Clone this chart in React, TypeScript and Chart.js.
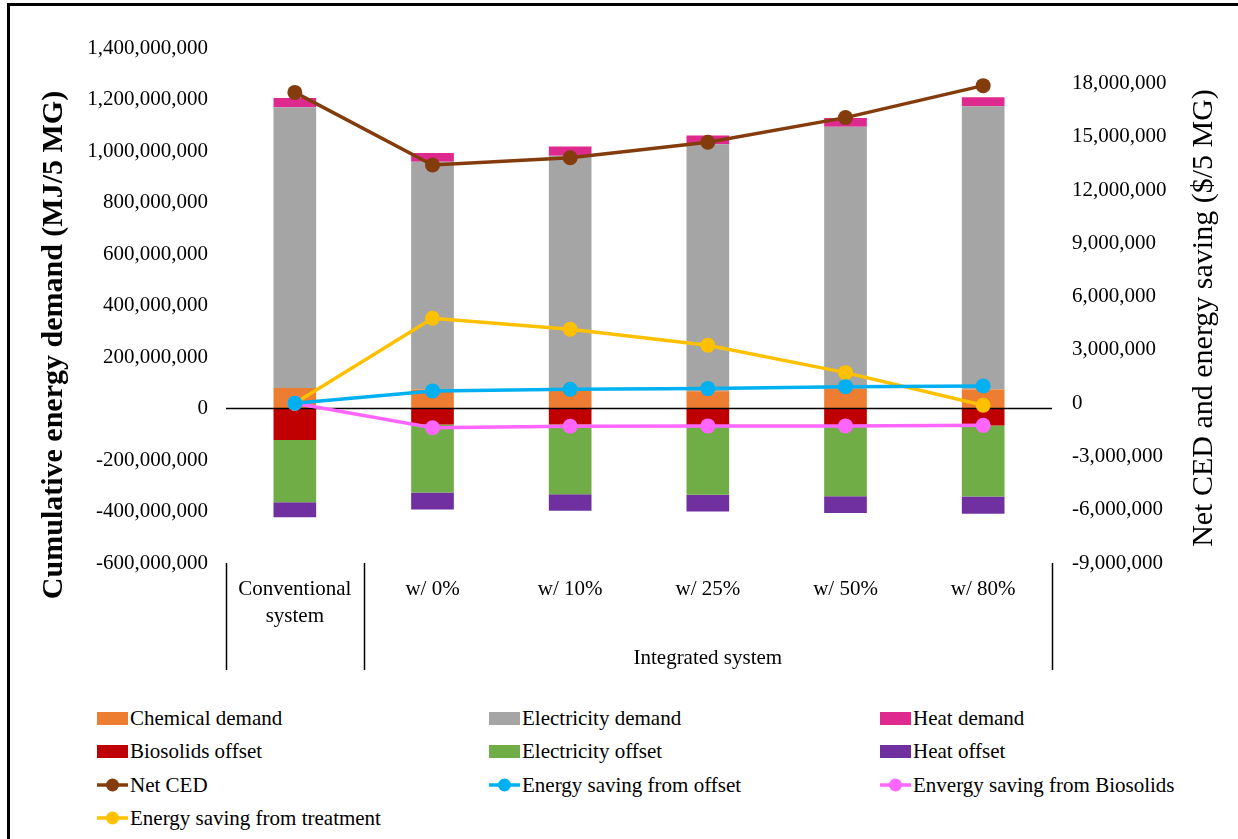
import React, { useEffect, useRef } from 'react';
import { Chart, registerables } from 'chart.js';

Chart.register(...registerables);

// ---------- data ----------
const categories: (string | string[])[] = [['Conventional', 'system'], 'w/ 0%', 'w/ 10%', 'w/ 25%', 'w/ 50%', 'w/ 80%'];
const groupLabels = ['', '', '', 'Integrated system', '', ''];

const leftTicks = [-600e6, -400e6, -200e6, 0, 200e6, 400e6, 600e6, 800e6, 1000e6, 1200e6, 1400e6];
const rightTicks = [-9e6, -6e6, -3e6, 0, 3e6, 6e6, 9e6, 12e6, 15e6, 18e6];

const chemicalDemand = [80e6, 74e6, 76e6, 67e6, 76e6, 74e6];
const electricityDemand = [1090e6, 884e6, 906e6, 959e6, 1018e6, 1100e6];
const heatDemand = [36e6, 34e6, 35e6, 34e6, 34e6, 35e6];
const biosolidsOffset = [-122e6, -62e6, -62e6, -72e6, -72e6, -66e6];
const electricityOffset = [-242e6, -264e6, -271e6, -263e6, -269e6, -276e6];
const heatOffset = [-58e6, -66e6, -64e6, -65e6, -65e6, -67e6];

const netCED = [17.5e6, 13.41e6, 13.82e6, 14.69e6, 16.08e6, 17.88e6];
const savingOffset = [0, 0.69e6, 0.78e6, 0.82e6, 0.93e6, 0.97e6];
const savingBiosolids = [0, -1.38e6, -1.3e6, -1.28e6, -1.28e6, -1.25e6];
const savingTreatment = [0, 4.78e6, 4.16e6, 3.26e6, 1.72e6, -0.12e6];

const barSeries = [
  { label: 'Chemical demand', data: chemicalDemand, color: '#ED7D31' },
  { label: 'Electricity demand', data: electricityDemand, color: '#A5A5A5' },
  { label: 'Heat demand', data: heatDemand, color: '#DE2A8E' },
  { label: 'Biosolids offset', data: biosolidsOffset, color: '#C00000' },
  { label: 'Electricity offset', data: electricityOffset, color: '#70AD47' },
  { label: 'Heat offset', data: heatOffset, color: '#7030A0' },
];
const lineSeries = [
  { label: 'Net CED', data: netCED, color: '#843C0C' },
  { label: 'Energy saving from offset', data: savingOffset, color: '#00B0F0' },
  { label: 'Envergy saving from Biosolids', data: savingBiosolids, color: '#FF66FF' },
  { label: 'Energy saving from treatment', data: savingTreatment, color: '#FFC000' },
];

const FONT = '"Liberation Serif", "Times New Roman", Times, serif';

export default function App() {
  const ref = useRef<HTMLCanvasElement>(null);

  useEffect(() => {
    if (!ref.current) return;
    let zeroDrawn = false;
    const drawZero = (chart: any) => {
      const { ctx, chartArea } = chart;
      const y = chart.scales.y.getPixelForValue(0);
      ctx.save();
      ctx.strokeStyle = '#000';
      ctx.lineWidth = 1.5;
      ctx.beginPath();
      ctx.moveTo(chartArea.left, y);
      ctx.lineTo(chartArea.right, y);
      ctx.stroke();
      ctx.restore();
    };
    const extras = {
      id: 'extras',
      beforeDatasetsDraw() {
        zeroDrawn = false;
      },
      beforeDatasetDraw(chart: any, args: any) {
        if (!zeroDrawn && args.meta.type === 'line') {
          drawZero(chart);
          zeroDrawn = true;
        }
      },
      afterDatasetsDraw(chart: any) {
        if (!zeroDrawn) drawZero(chart);
      },
      afterDraw(chart: any) {
        const { ctx, chartArea } = chart;
        const x = chart.scales.x;
        const n = categories.length;
        const w = (x.right - x.left) / n;
        ctx.save();
        ctx.strokeStyle = '#000';
        ctx.lineWidth = 1.5;
        [0, 1, n].forEach((k) => {
          const px = Math.round(x.left + k * w) + 0.5;
          ctx.beginPath();
          ctx.moveTo(px, chartArea.bottom);
          ctx.lineTo(px, chartArea.bottom + 107);
          ctx.stroke();
        });
        ctx.restore();
      },
    };

    const tickFont = { family: FONT, size: 21, lineHeight: 1.3 };
    const fmt = (v: any) => Number(v).toLocaleString('en-US');

    const datasets: any[] = [
      ...barSeries.map((s) => ({
        type: 'bar',
        label: s.label,
        data: s.data,
        backgroundColor: s.color,
        borderWidth: 0,
        yAxisID: 'y',
        order: 2,
        barPercentage: 0.31,
        categoryPercentage: 1,
      })),
      ...lineSeries.map((s) => ({
        type: 'line',
        label: s.label,
        data: s.data,
        borderColor: s.color,
        backgroundColor: s.color,
        pointBackgroundColor: s.color,
        pointBorderWidth: 0,
        pointRadius: 7.5,
        pointHoverRadius: 7.5,
        borderWidth: 3.5,
        tension: 0,
        yAxisID: 'y2',
        order: 1,
      })),
    ];

    const chart = new Chart(ref.current, {
      type: 'bar',
      data: { labels: categories as any, datasets },
      plugins: [extras],
      options: {
        responsive: false,
        animation: false,
        devicePixelRatio: 1,
        layout: { padding: { left: 87, top: 48, right: 0, bottom: 0 } },
        plugins: { legend: { display: false }, tooltip: { enabled: false } },
        scales: {
          x: {
            type: 'category',
            stacked: true,
            offset: true,
            weight: 0,
            grid: { display: false, drawTicks: false },
            border: { display: false },
            ticks: { padding: 13, autoSkip: false, maxRotation: 0, color: '#000', font: tickFont },
            afterFit: (s: any) => {
              s.height = 80;
            },
          },
          x2: {
            type: 'category',
            labels: groupLabels,
            position: 'bottom',
            offset: true,
            weight: 1,
            grid: { display: false, drawTicks: false },
            border: { display: false },
            ticks: { padding: 2, autoSkip: false, maxRotation: 0, color: '#000', font: tickFont },
            afterFit: (s: any) => {
              s.height = 57;
            },
          },
          y: {
            type: 'linear',
            position: 'left',
            stacked: true,
            min: -600e6,
            max: 1400e6,
            grid: { display: false, drawTicks: false },
            border: { display: false },
            afterBuildTicks: (s: any) => {
              s.ticks = leftTicks.map((v) => ({ value: v }));
            },
            afterFit: (s: any) => {
              s.width = 139;
            },
            ticks: { padding: 18, color: '#000', font: tickFont, callback: fmt },
          },
          y2: {
            type: 'linear',
            position: 'right',
            min: -9e6,
            max: 20e6,
            grid: { display: false, drawTicks: false },
            border: { display: false },
            afterBuildTicks: (s: any) => {
              s.ticks = rightTicks.map((v) => ({ value: v }));
            },
            afterFit: (s: any) => {
              s.width = 186;
            },
            ticks: { padding: 20, color: '#000', font: tickFont, callback: fmt },
          },
        },
      } as any,
    });
    return () => chart.destroy();
  }, []);

  const legendItems = [
    ...barSeries.map((s) => ({ ...s, kind: 'box' })),
    ...lineSeries.map((s) => ({ ...s, kind: 'line' })),
  ];
  const colX = [97, 489, 880];
  const rowY = [718, 751, 785, 818];

  return (
    <div>
      <div
        style={{
          position: 'fixed',
          left: 7,
          top: 3,
          width: 1240,
          height: 850,
          borderLeft: '3px solid #000',
          borderTop: '3px solid #000',
          boxSizing: 'border-box',
          background: '#fff',
        }}
      />
      <canvas
        ref={ref}
        width={1238}
        height={700}
        style={{ position: 'fixed', left: 0, top: 0, width: 1238, height: 700 }}
      />
      <div
        style={{
          position: 'fixed',
          left: 52,
          top: 345,
          width: 620,
          height: 36,
          lineHeight: '36px',
          fontFamily: FONT,
          fontWeight: 'bold',
          fontSize: 30,
          textAlign: 'center',
          whiteSpace: 'nowrap',
          color: '#000',
          transform: 'translate(-50%, -50%) rotate(-90deg)',
        }}
      >
        Cumulative energy demand (MJ/5 MG)
      </div>
      <div
        style={{
          position: 'fixed',
          left: 1202,
          top: 318,
          width: 620,
          height: 36,
          lineHeight: '36px',
          fontFamily: FONT,
          fontSize: 30,
          textAlign: 'center',
          whiteSpace: 'nowrap',
          color: '#000',
          transform: 'translate(-50%, -50%) rotate(-90deg)',
        }}
      >
        Net CED and energy saving ($/5 MG)
      </div>
      {legendItems.map((it, i) => (
        <div
          key={it.label}
          style={{
            position: 'fixed',
            left: colX[i % 3],
            top: rowY[Math.floor(i / 3)] - 13,
            height: 26,
            display: 'flex',
            alignItems: 'center',
            fontFamily: FONT,
            fontSize: 21,
            whiteSpace: 'nowrap',
            color: '#000',
          }}
        >
          {it.kind === 'box' ? (
            <span style={{ display: 'inline-block', width: 31, height: 13, background: it.color, marginRight: 2 }} />
          ) : (
            <svg width={31} height={16} style={{ marginRight: 2 }}>
              <line x1={0} y1={8} x2={31} y2={8} stroke={it.color} strokeWidth={3.5} />
              <circle cx={15.5} cy={8} r={6.5} fill={it.color} />
            </svg>
          )}
          <span>{it.label}</span>
        </div>
      ))}
    </div>
  );
}
